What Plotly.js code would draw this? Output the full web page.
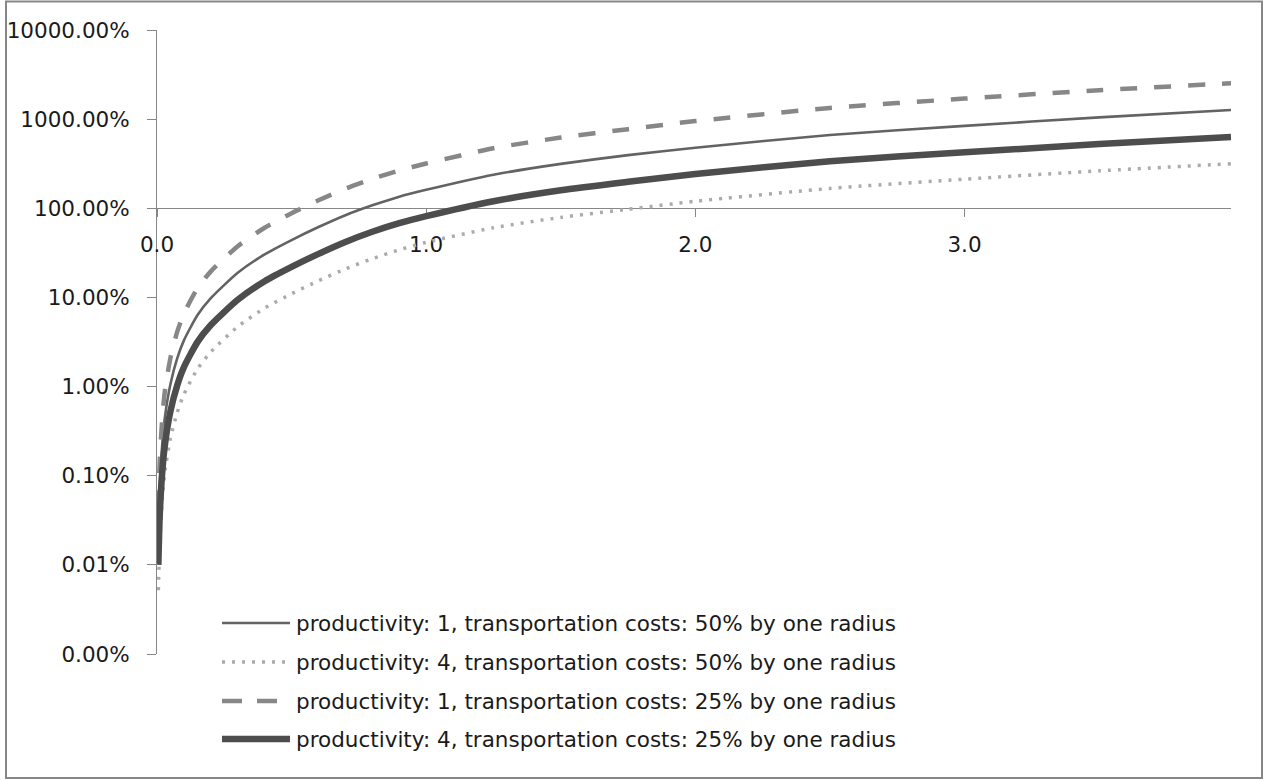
<!DOCTYPE html>
<html>
<head>
<meta charset="utf-8">
<script src="https://cdn.plot.ly/plotly-3.0.1.min.js"></script>
<style>
  html, body { margin: 0; padding: 0; background: #ffffff; }
  #chart { width: 1264px; height: 780px; }
</style>
</head>
<body>
<div id="chart"></div>
<script>
// Distance from the centre, in radii
const radius = [0.005, 0.01, 0.02, 0.03, 0.05, 0.075, 0.1, 0.15, 0.2, 0.3, 0.4, 0.5, 0.6, 0.7, 0.8, 0.9, 1.0, 1.25, 1.5, 1.75, 2.0, 2.5, 3.0, 3.5, 3.99];

// Values in percent
const prod1Cost50 = [0.022, 0.072, 0.235, 0.47, 1.07, 2.07, 3.3, 6.3, 9.8, 18.9, 30.4, 44, 61.6, 83.7, 108, 135, 161, 238, 315, 395, 478, 665, 840, 1047, 1268];
const prod4Cost50 = [0.0052, 0.017, 0.057, 0.115, 0.265, 0.51, 0.82, 1.57, 2.45, 4.7, 7.6, 11, 15.4, 20.9, 27.2, 34.2, 41.5, 60.5, 79, 97.5, 119.8, 167, 212, 263, 316];
const prod1Cost25 = [0.044, 0.14, 0.46, 0.93, 2.1, 4.1, 6.6, 12.6, 19.6, 37.5, 60.5, 88, 123, 166, 214, 266, 318, 472, 622, 772, 952, 1335, 1700, 2110, 2525];
const prod4Cost25 = [0.0100, 0.035, 0.115, 0.23, 0.53, 1.03, 1.65, 3.15, 4.9, 9.4, 15.2, 22, 30.8, 41.9, 54.5, 68, 81.5, 120, 159, 198, 243, 338, 424, 525, 632];

const seriesNames = [
  'productivity: 1, transportation costs: 50% by one radius',
  'productivity: 4, transportation costs: 50% by one radius',
  'productivity: 1, transportation costs: 25% by one radius',
  'productivity: 4, transportation costs: 25% by one radius'
];

const yTickVals = [0.001, 0.01, 0.1, 1, 10, 100, 1000, 10000];
const yTickText = ['0.00%', '0.01%', '0.10%', '1.00%', '10.00%', '100.00%', '1000.00%', '10000.00%'];
const xTickVals = [0, 1, 2, 3];
const xTickText = ['0.0', '1.0', '2.0', '3.0'];

const styles = [
  { color: '#636363', width: 2.6, dash: 'solid' },
  { color: '#ababab', width: 3.5, dash: '3px,7px' },
  { color: '#878787', width: 4.5, dash: '17px,17px' },
  { color: '#4d4d4d', width: 6.5, dash: 'solid' }
];

const seriesValues = [prod1Cost50, prod4Cost50, prod1Cost25, prod4Cost25];

const traces = seriesValues.map((vals, i) => ({
  type: 'scatter',
  mode: 'lines',
  x: radius,
  y: vals,
  name: seriesNames[i],
  line: { color: styles[i].color, width: styles[i].width, dash: styles[i].dash, shape: 'spline', smoothing: 0.6 },
  hoverinfo: 'x+y+name'
}));

// Plot area geometry (px) used to place the hand-built legend and the frame
const W = 1264, H = 780;
const M = { l: 157, r: 33, t: 30, b: 126 };
const PW = W - M.l - M.r, PH = H - M.t - M.b;
const px = v => (v - M.l) / PW;
const py = v => (H - M.b - v) / PH;

const textFont = { family: 'DejaVu Sans', size: 21.5, color: '#1a1a1a' };

const legendRows = [623, 662, 701, 739];
const shapes = [];
const annotations = [];
legendRows.forEach((rowY, i) => {
  shapes.push({
    type: 'line', xref: 'paper', yref: 'paper',
    x0: px(222), x1: px(290), y0: py(rowY), y1: py(rowY),
    line: { color: styles[i].color, width: styles[i].width, dash: i === 2 ? '20px,15px' : styles[i].dash }
  });
  annotations.push({
    xref: 'paper', yref: 'paper', x: px(294), y: py(rowY),
    xanchor: 'left', yanchor: 'middle', showarrow: false,
    text: seriesNames[i],
    font: textFont
  });
});

// outer chart frame
shapes.push({
  type: 'rect', xref: 'paper', yref: 'paper', layer: 'above',
  x0: px(6), x1: px(1262), y0: py(778), y1: py(1.5),
  line: { color: '#878787', width: 2 }, fillcolor: 'rgba(0,0,0,0)'
});

const layout = {
  width: W, height: H,
  margin: M,
  paper_bgcolor: '#ffffff',
  plot_bgcolor: '#ffffff',
  showlegend: false,
  xaxis: {
    range: [0, 3.99],
    tickvals: xTickVals, ticktext: xTickText,
    anchor: 'free', position: 5 / 7,
    ticks: 'outside', ticklen: 8, tickcolor: '#878787', tickwidth: 1,
    showline: true, linecolor: '#878787', linewidth: 1,
    showgrid: false, zeroline: false,
    tickfont: textFont, ticklabelstandoff: 9,
    layer: 'below traces'
  },
  yaxis: {
    type: 'log', range: [-3, 4],
    tickvals: yTickVals, ticktext: yTickText,
    ticks: 'outside', ticklen: 9, tickcolor: '#878787', tickwidth: 1,
    showline: true, linecolor: '#878787', linewidth: 1,
    showgrid: false, zeroline: false,
    tickfont: textFont, ticklabelstandoff: 13,
    layer: 'below traces'
  },
  shapes: shapes,
  annotations: annotations
};

Plotly.newPlot('chart', traces, layout, { displayModeBar: false, staticPlot: true });
</script>
</body>
</html>
